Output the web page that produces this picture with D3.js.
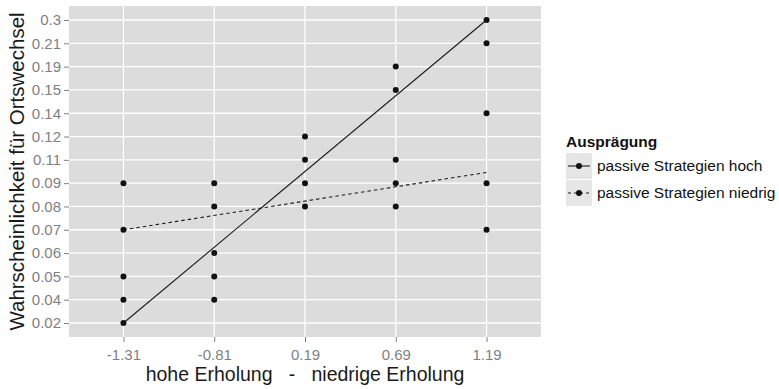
<!DOCTYPE html>
<html>
<head>
<meta charset="utf-8">
<script src="https://cdn.jsdelivr.net/npm/d3@7"></script>
<style>
  body { margin: 0; background: #fff; }
  text { font-family: "Liberation Sans", Arial, sans-serif; }
</style>
</head>
<body>
<div id="chart"></div>
<script>
// discrete axis levels, as shown on the picture
const xLevels = ['-1.31', '-0.81', '0.19', '0.69', '1.19'];
const yLevels = ['0.02', '0.04', '0.05', '0.06', '0.07', '0.08', '0.09', '0.11', '0.12', '0.14', '0.15', '0.19', '0.21', '0.3'];

// observed points (x level, y level)
const pointX = ['-1.31', '-1.31', '-1.31', '-1.31', '-1.31',
                '-0.81', '-0.81', '-0.81', '-0.81', '-0.81',
                '0.19', '0.19', '0.19', '0.19',
                '0.69', '0.69', '0.69', '0.69', '0.69',
                '1.19', '1.19', '1.19', '1.19', '1.19'];
const pointY = ['0.09', '0.07', '0.05', '0.04', '0.02',
                '0.09', '0.08', '0.06', '0.05', '0.04',
                '0.12', '0.11', '0.09', '0.08',
                '0.19', '0.15', '0.11', '0.09', '0.08',
                '0.3', '0.21', '0.14', '0.09', '0.07'];

// fitted lines, in level-index units (0 = first level) at first and last x level
const seriesNames = ['passive Strategien hoch', 'passive Strategien niedrig'];
const trendStart = [0, 4];
const trendEnd = [13, 6.46];

const width = 779, height = 389;
const margin = { top: 6, right: 238, bottom: 52, left: 69 };
const panelW = width - margin.left - margin.right;
const panelH = height - margin.top - margin.bottom;

const svg = d3.select('#chart').append('svg')
    .attr('width', width)
    .attr('height', height);

const g = svg.append('g')
    .attr('transform', `translate(${margin.left},${margin.top})`);

const x = d3.scalePoint().domain(xLevels).range([0, panelW]).padding(0.6);
const y = d3.scalePoint().domain(yLevels).range([panelH, 0]).padding(0.6);

// index scales for the fitted lines
const xi = d3.scaleLinear().domain([0, xLevels.length - 1]).range([x(xLevels[0]), x(xLevels[xLevels.length - 1])]);
const yi = d3.scaleLinear().domain([0, yLevels.length - 1]).range([y(yLevels[0]), y(yLevels[yLevels.length - 1])]);

g.append('rect')
    .attr('width', panelW)
    .attr('height', panelH)
    .attr('fill', '#dcdcdc');

// grid
g.selectAll('line.gx')
    .data(xLevels)
    .enter().append('line')
    .attr('class', 'gx')
    .attr('x1', d => x(d)).attr('x2', d => x(d))
    .attr('y1', 0).attr('y2', panelH)
    .attr('stroke', '#fff').attr('stroke-width', 1.3);

g.selectAll('line.gy')
    .data(yLevels)
    .enter().append('line')
    .attr('class', 'gy')
    .attr('y1', d => y(d)).attr('y2', d => y(d))
    .attr('x1', 0).attr('x2', panelW)
    .attr('stroke', '#fff').attr('stroke-width', 1.3);

// axes
const xAxis = g.append('g')
    .attr('transform', `translate(0,${panelH})`)
    .call(d3.axisBottom(x).tickSize(5).tickPadding(4));
const yAxis = g.append('g')
    .call(d3.axisLeft(y).tickSize(5).tickPadding(3));

[xAxis, yAxis].forEach(a => {
    a.select('.domain').remove();
    a.selectAll('line').attr('stroke', '#7f7f7f');
    a.selectAll('text')
        .attr('fill', '#7f7f7f')
        .style('font-size', '15px');
});
xAxis.selectAll('text').attr('dy', '0.9em');

// fitted lines
const dashes = [null, '3.5,3'];
seriesNames.forEach((s, i) => {
    g.append('line')
        .attr('x1', xi(0)).attr('y1', yi(trendStart[i]))
        .attr('x2', xi(xLevels.length - 1)).attr('y2', yi(trendEnd[i]))
        .attr('stroke', '#1a1a1a')
        .attr('stroke-width', 1.1)
        .attr('stroke-dasharray', dashes[i]);
});

// points
g.selectAll('circle')
    .data(pointX)
    .enter().append('circle')
    .attr('cx', d => x(d))
    .attr('cy', (d, i) => y(pointY[i]))
    .attr('r', 3)
    .attr('fill', '#111');

// axis titles
svg.append('text')
    .attr('x', margin.left + panelW / 2)
    .attr('y', 381)
    .attr('text-anchor', 'middle')
    .style('font-size', '19.5px')
    .style('white-space', 'pre')
    .attr('fill', '#1a1a1a')
    .text('hohe Erholung   -   niedrige Erholung');

svg.append('text')
    .attr('transform', `translate(24,${margin.top + panelH / 2}) rotate(-90)`)
    .attr('text-anchor', 'middle')
    .style('font-size', '20.5px')
    .attr('fill', '#1a1a1a')
    .text('Wahrscheinlichkeit für Ortswechsel');

// legend
const legend = svg.append('g').attr('transform', 'translate(566,128)');
legend.append('text')
    .attr('x', 0).attr('y', 19)
    .style('font-size', '15.5px')
    .style('font-weight', 'bold')
    .attr('fill', '#111')
    .text('Ausprägung');

const keySize = 26;
seriesNames.forEach((s, i) => {
    const k = legend.append('g').attr('transform', `translate(0,${25 + i * (keySize + 1)})`);
    k.append('rect')
        .attr('width', keySize).attr('height', keySize)
        .attr('fill', '#e6e6e6');
    k.append('line')
        .attr('x1', 2).attr('x2', keySize - 2)
        .attr('y1', keySize / 2).attr('y2', keySize / 2)
        .attr('stroke', '#1a1a1a').attr('stroke-width', 1.1)
        .attr('stroke-dasharray', i === 1 ? '3,3' : null);
    k.append('circle')
        .attr('cx', keySize / 2).attr('cy', keySize / 2).attr('r', 3)
        .attr('fill', '#111');
    k.append('text')
        .attr('x', keySize + 5).attr('y', keySize / 2)
        .attr('dy', '0.35em')
        .style('font-size', '15.5px')
        .attr('fill', '#111')
        .text(s);
});
</script>
</body>
</html>
